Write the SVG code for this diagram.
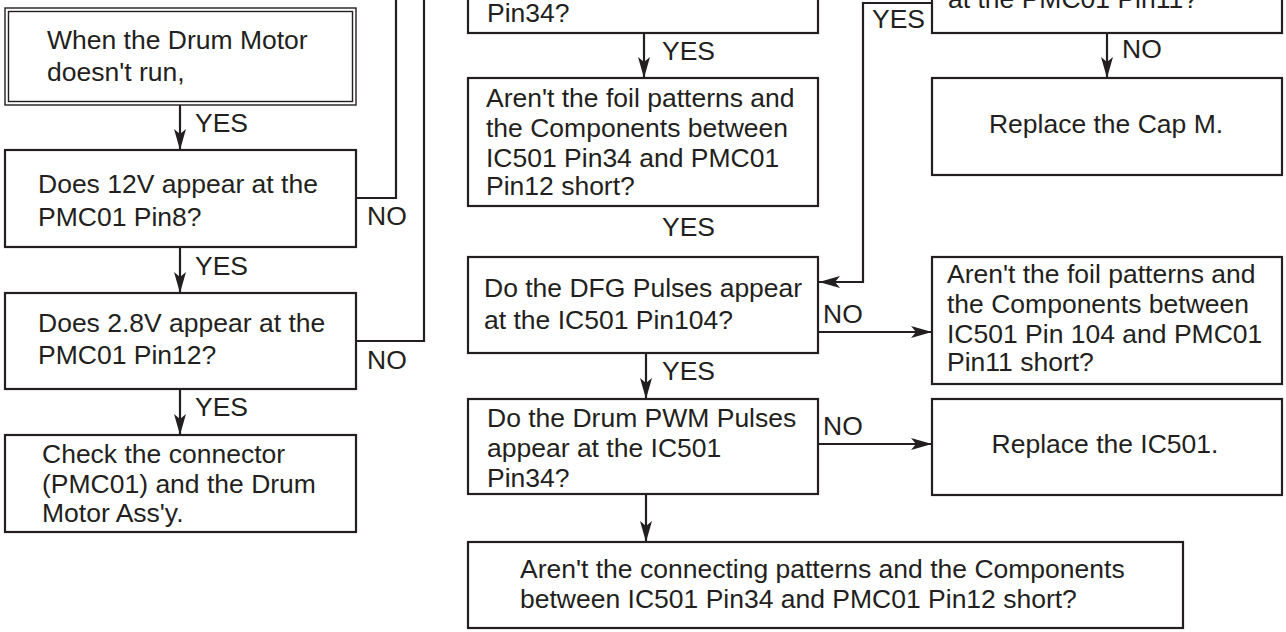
<svg xmlns="http://www.w3.org/2000/svg" width="1286" height="632" viewBox="0 0 1286 632">
<defs>
<style>
.box{fill:#fff;stroke:#231f20;stroke-width:2.2}
.thin{fill:none;stroke:#231f20;stroke-width:1.4}
.t{font-family:"Liberation Sans",Arial,sans-serif;font-size:26.5px;fill:#231f20}
.c{text-anchor:middle}
.ln{fill:none;stroke:#231f20;stroke-width:2.2}
.ar{marker-end:url(#ah)}
</style>
<marker id="ah" markerUnits="userSpaceOnUse" markerWidth="22" markerHeight="14" viewBox="0 0 22 14" refX="21" refY="7" orient="auto">
<path d="M0,1 L21,7 L0,13 L5,7 Z" fill="#231f20"/>
</marker>
</defs>

<g id="connectors">
<path class="ln" d="M356,198 H396 V0"/>
<path class="ln" d="M356,341 H424 V0"/>
<path class="ln ar" d="M180,105 V150"/>
<path class="ln ar" d="M180,247 V293"/>
<path class="ln ar" d="M180,389 V435"/>
<path class="ln ar" d="M644,33 V78"/>
<path class="ln ar" d="M932,3 H863 V282 H819"/>
<path class="ln ar" d="M1107,33 V78"/>
<path class="ln ar" d="M818,332 H932"/>
<path class="ln ar" d="M646,353 V399"/>
<path class="ln ar" d="M818,444 H932"/>
<path class="ln ar" d="M646,494 V542"/>
<text class="t" x="195" y="132">YES</text>
<text class="t" x="195" y="275">YES</text>
<text class="t" x="195" y="416">YES</text>
<text class="t" x="367" y="225">NO</text>
<text class="t" x="367" y="369">NO</text>
<text class="t" x="662" y="60">YES</text>
<text class="t" x="662" y="236">YES</text>
<text class="t" x="872" y="28">YES</text>
<text class="t" x="1122" y="58">NO</text>
<text class="t" x="823" y="323">NO</text>
<text class="t" x="662" y="380">YES</text>
<text class="t" x="823" y="435">NO</text>
</g>

<g id="start">
<rect class="thin" x="5" y="8" width="351" height="97"/>
<rect class="thin" x="8.5" y="11.5" width="344" height="90"/>
<text class="t" x="47" y="49">When the Drum Motor</text>
<text class="t" x="47" y="81">doesn't run,</text>
</g>

<g id="q12v">
<rect class="box" x="5" y="150" width="351" height="97"/>
<text class="t" x="38" y="193">Does 12V appear at the</text>
<text class="t" x="38" y="226">PMC01 Pin8?</text>
</g>

<g id="q28v">
<rect class="box" x="5" y="293" width="351" height="96"/>
<text class="t" x="38" y="332">Does 2.8V appear at the</text>
<text class="t" x="38" y="364">PMC01 Pin12?</text>
</g>

<g id="check">
<rect class="box" x="5" y="435" width="351" height="97"/>
<text class="t" x="42" y="463">Check the connector</text>
<text class="t" x="42" y="493">(PMC01) and the Drum</text>
<text class="t" x="42" y="522">Motor Ass'y.</text>
</g>

<g id="qpin34top">
<rect class="box" x="468" y="-100" width="350" height="133"/>
<text class="t" x="487" y="22">Pin34?</text>
</g>

<g id="foil34">
<rect class="box" x="468" y="78" width="350" height="128"/>
<text class="t" x="486" y="107">Aren't the foil patterns and</text>
<text class="t" x="486" y="137">the Components between</text>
<text class="t" x="486" y="167">IC501 Pin34 and PMC01</text>
<text class="t" x="486" y="195">Pin12 short?</text>
</g>

<g id="qdfg">
<rect class="box" x="468" y="257" width="350" height="96"/>
<text class="t" x="484" y="297">Do the DFG Pulses appear</text>
<text class="t" x="484" y="329">at the IC501 Pin104?</text>
</g>

<g id="qpwm">
<rect class="box" x="468" y="399" width="350" height="95"/>
<text class="t" x="487" y="427">Do the Drum PWM Pulses</text>
<text class="t" x="487" y="457">appear at the IC501</text>
<text class="t" x="487" y="487">Pin34?</text>
</g>

<g id="connect">
<rect class="box" x="468" y="542" width="715" height="86"/>
<text class="t" x="520" y="578">Aren't the connecting patterns and the Components</text>
<text class="t" x="520" y="608">between IC501 Pin34 and PMC01 Pin12 short?</text>
</g>

<g id="qpin11">
<rect class="box" x="932" y="-100" width="350" height="133"/>
<text class="t" x="948" y="8">at the PMC01 Pin11?</text>
</g>

<g id="capm">
<rect class="box" x="932" y="78" width="350" height="97"/>
<text class="t c" x="1106" y="133">Replace the Cap M.</text>
</g>

<g id="foil104">
<rect class="box" x="932" y="257" width="350" height="127"/>
<text class="t" x="947" y="283">Aren't the foil patterns and</text>
<text class="t" x="947" y="313">the Components between</text>
<text class="t" x="947" y="343">IC501 Pin 104 and PMC01</text>
<text class="t" x="947" y="371">Pin11 short?</text>
</g>

<g id="ic501">
<rect class="box" x="932" y="399" width="350" height="96"/>
<text class="t c" x="1105" y="453">Replace the IC501.</text>
</g>
</svg>
